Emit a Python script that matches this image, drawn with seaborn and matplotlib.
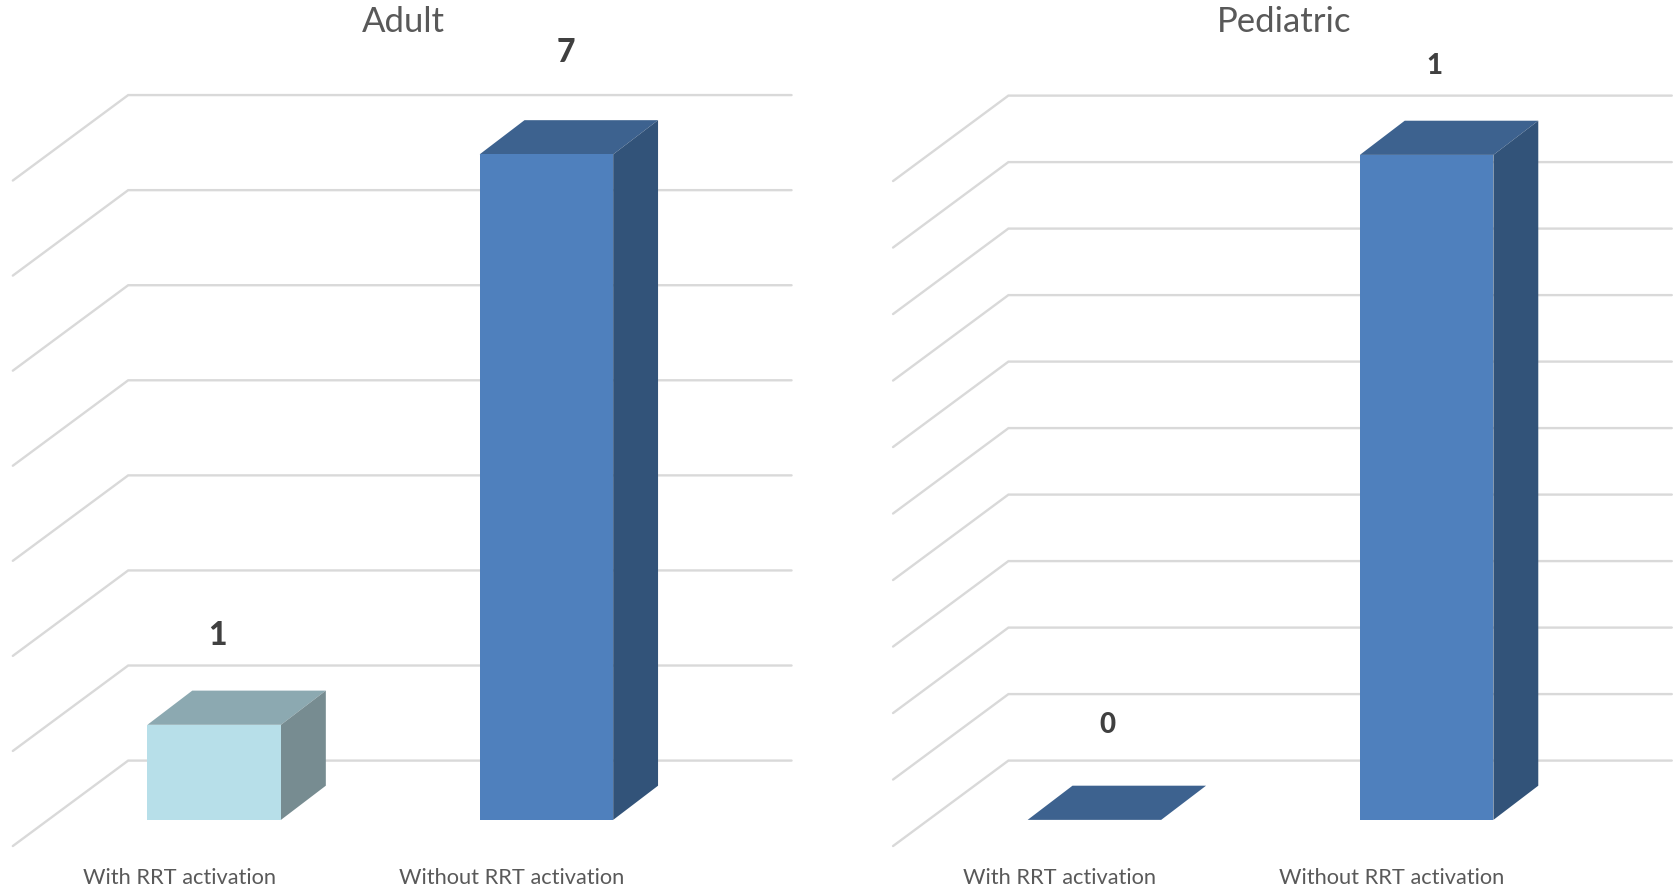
import matplotlib
matplotlib.use('Agg')
import matplotlib.pyplot as plt
from matplotlib.patches import Polygon
from matplotlib.transforms import ScaledTranslation
import seaborn as sns
import pandas as pd

categories = ['With RRT activation', 'Without RRT activation']
adult_values = [1, 7]
pediatric_values = [0, 1]
adult_ticks = [0, 1, 2, 3, 4, 5, 6, 7]
pediatric_ticks = [0, 0.1, 0.2, 0.3, 0.4, 0.5, 0.6, 0.7, 0.8, 0.9, 1.0]

W, H = 1675, 889
S = 1675 / 1568  # I measured everything on the shrunk picture
GRID = '#D9D9D9'
LIGHT = ('#B7DFE9', '#8CA9B1', '#778C91')
BLUE = ('#4F80BD', '#3D628F', '#325379')

sns.set_theme(style='white')
plt.rcParams['font.family'] = ['Lato', 'DejaVu Sans']

fig = plt.figure(figsize=(W / 100, H / 100), dpi=100)


def draw_panel(left, title, values, ticks, unit_px, faces, label_size, label_off):
    # axes box in shrunk pixels: floor front edge at the bottom, back wall on top
    x0, x1 = left + 12, left + 741
    y_top, y_bot = 89, 791
    ax = fig.add_axes([x0 * S / W, 1 - y_bot * S / H, (x1 - x0) * S / W, (y_bot - y_top) * S / H])
    df = pd.DataFrame({'group': categories, 'count': values})
    sns.barplot(data=df, x='group', y='count', hue='group', palette=[f[0] for f in faces],
                width=0.402, legend=False, saturation=1, ax=ax, zorder=3, linewidth=0)

    step = 311.0  # px between the two bars
    ax.set_xlim((12 - 200.5) / step, (741 - 200.5) / step)
    ax.set_ylim((767.5 - y_bot) / unit_px, (767.5 - y_top) / unit_px)

    dx, dy = 42 / step, 32 / unit_px  # bar depth
    wall_x0, wall_x1 = (120 - 200.5) / step, (741 - 200.5) / step
    wall_lift = 55.5 / unit_px
    floor_x = (12 - 200.5) / step
    floor_lift = -24.5 / unit_px
    for t in ticks:
        ax.plot([floor_x, wall_x0, wall_x1],
                [t + floor_lift, t + wall_lift, t + wall_lift],
                color=GRID, lw=1.7, zorder=1, clip_on=False, solid_joinstyle='miter')

    for i, bar in enumerate(ax.patches):
        bx, bw, bh = bar.get_x(), bar.get_width(), bar.get_height()
        bar.set_edgecolor('none')
        top = [(bx, bh), (bx + bw, bh), (bx + bw + dx, bh + dy), (bx + dx, bh + dy)]
        ax.add_patch(Polygon(top, closed=True, fc=faces[i][1], ec='none', lw=0, zorder=2))
        if bh > 0:
            side = [(bx + bw, 0), (bx + bw + dx, dy), (bx + bw + dx, bh + dy), (bx + bw, bh)]
            ax.add_patch(Polygon(side, closed=True, fc=faces[i][2], ec='none', lw=0, zorder=2))
        ox, oy = label_off[i]
        ax.annotate(str(values[i]), (bx + bw / 2, bh), xytext=(ox * S * 0.72, oy * S * 0.72),
                    textcoords='offset points', ha='center', va='center',
                    fontsize=label_size, fontweight='black', color='#404040')

    ax.set_xlabel('')
    ax.set_ylabel('')
    ax.set_yticks([])
    ax.set_xticks([0, 1], categories)
    ax.tick_params(axis='x', length=0, pad=16.5, labelsize=15.7, labelcolor='#595959')
    shift = ScaledTranslation(-32.5 * S / 100, 0, fig.dpi_scale_trans)
    for lab in ax.get_xticklabels():
        lab.set_transform(lab.get_transform() + shift)
    sns.despine(ax=ax, left=True, bottom=True)
    ax.patch.set_visible(False)
    fig.text((left + 378) * S / W, 1 - 21 * S / H, title, ha='center', va='center',
             fontsize=25, color='#595959')


draw_panel(0, 'Adult', adult_values, adult_ticks, 89.0, [LIGHT, BLUE], 23, [(3, 84), (18, 95)])
draw_panel(824, 'Pediatric', pediatric_values, pediatric_ticks, 622.5, [BLUE, BLUE], 20, [(12, 89), (7, 83)])

fig.savefig('out.png', dpi=100)
